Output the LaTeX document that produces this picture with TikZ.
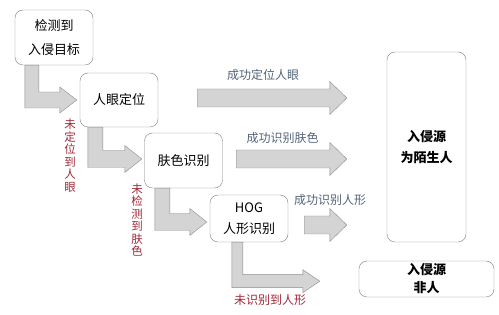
\documentclass[tikz,border=0pt]{standalone}
\usepackage{fontspec}
\setmainfont{Noto Sans CJK SC}
\usetikzlibrary{calc}
\definecolor{failred}{RGB}{160,40,56}
\definecolor{okblue}{RGB}{84,100,120}

% L-shaped fat arrow: shaft left corner, tip, shaft width
\newcommand{\elbowarrow}[3]{%
  \draw[fatarrow] let \p1=(#1), \p2=(#2) in
    (\x1,\y1) -- (\x1+#3,\y1) -- (\x1+#3,\y2+#3/2+1pt) -- (\x2-17pt,\y2+#3/2+1pt)
    -- (\x2-17pt,\y2+#3/2+6pt) -- (\x2,\y2) -- (\x2-17pt,\y2-#3/2-6pt)
    -- (\x2-17pt,\y2-#3/2-1pt) -- (\x1,\y2-#3/2-1pt) -- cycle;}
% straight fat arrow: start, node anchor it points to
\newcommand{\straightarrow}[2]{%
  \draw[fatarrow] let \p1=(#1), \p2=(#2) in
    (\x1,\y1+9pt) -- (\x2-57pt,\y1+9pt) -- (\x2-57pt,\y1+16.5pt) -- (\x2-40pt,\y1)
    -- (\x2-57pt,\y1-16.5pt) -- (\x2-57pt,\y1-9pt) -- (\x1,\y1-9pt) -- cycle;}

\begin{document}
\begin{tikzpicture}[
    x=1pt, y=-1pt,
    every node/.style={font=\fontsize{13}{15}\selectfont},
    box/.style={draw=black!50, rounded corners=8pt, align=center, inner sep=0pt, fill=white},
    fatarrow/.style={draw=black!45, fill=black!17, line join=miter},
    oklabel/.style={text=okblue, font=\fontsize{12}{14}\selectfont},
    faillabel/.style={text=failred, font=\fontsize{12}{14}\selectfont},
    faildown/.style={text=failred, align=center, inner sep=0pt, font=\fontsize{11.5}{12.5}\selectfont}
]
\useasboundingbox (0,0) rectangle (499,315);

% stages
\node[box, minimum width=78pt, minimum height=55pt] (detect) at (54,37.5) {检测到\\[9pt]入侵目标};
\node[box, minimum width=78pt, minimum height=54pt] (eye) at (119,100) {人眼定位};
\node[box, minimum width=78pt, minimum height=55pt] (skin) at (183.5,160.5) {肤色识别};
\node[box, minimum width=78pt, minimum height=47pt] (hog) at (249,218.5) {HOG\\[6pt]人形识别};

% results
\node[box, minimum width=79pt, minimum height=190pt, font=\fontsize{13}{15}\selectfont\bfseries] (stranger) at (426.5,147) {入侵源\\[6pt]为陌生人};
\node[box, minimum width=135pt, minimum height=36pt, font=\fontsize{13}{15}\selectfont\bfseries] (nothuman) at (426.5,279) {入侵源\\[3pt]非人};

% failure paths
\elbowarrow{$(detect.south west)+(10,0)$}{$(eye.west)+(-3,0)$}{14pt}
\elbowarrow{$(eye.south west)+(8,0)$}{$(skin.west)+(-2.5,-1.5)$}{15pt}
\elbowarrow{$(skin.south west)+(10.5,0)$}{$(hog.west)+(-3,3.5)$}{15pt}
\coordinate (hogfail) at ($(hog.south west)+(110,39)$);
\elbowarrow{$(hog.south west)+(22,0)$}{hogfail}{11pt}

% success paths
\coordinate (eyeok) at ($(eye.east)+(39,-2)$);
\coordinate (skinok) at ($(skin.east)+(13.5,-1.5)$);
\coordinate (hogok) at ($(hog.east)+(16,6.5)$);
\straightarrow{eyeok}{stranger.west}
\straightarrow{skinok}{stranger.west}
\straightarrow{hogok}{stranger.west}

% labels
\node[oklabel] (eyeoklabel) at (263,75) {成功定位人眼};
\node[oklabel] (skinoklabel) at (282.5,138) {成功识别肤色};
\node[oklabel] (hogoklabel) at (330,200) {成功识别人形};
\node[faildown] (eyefaillabel) at (70,155.5) {未\\定\\位\\到\\人\\眼};
\node[faildown] (skinfaillabel) at (137,220) {未\\检\\测\\到\\肤\\色};
\node[faillabel] (hogfaillabel) at (270,300) {未识别到人形};
\end{tikzpicture}
\end{document}
